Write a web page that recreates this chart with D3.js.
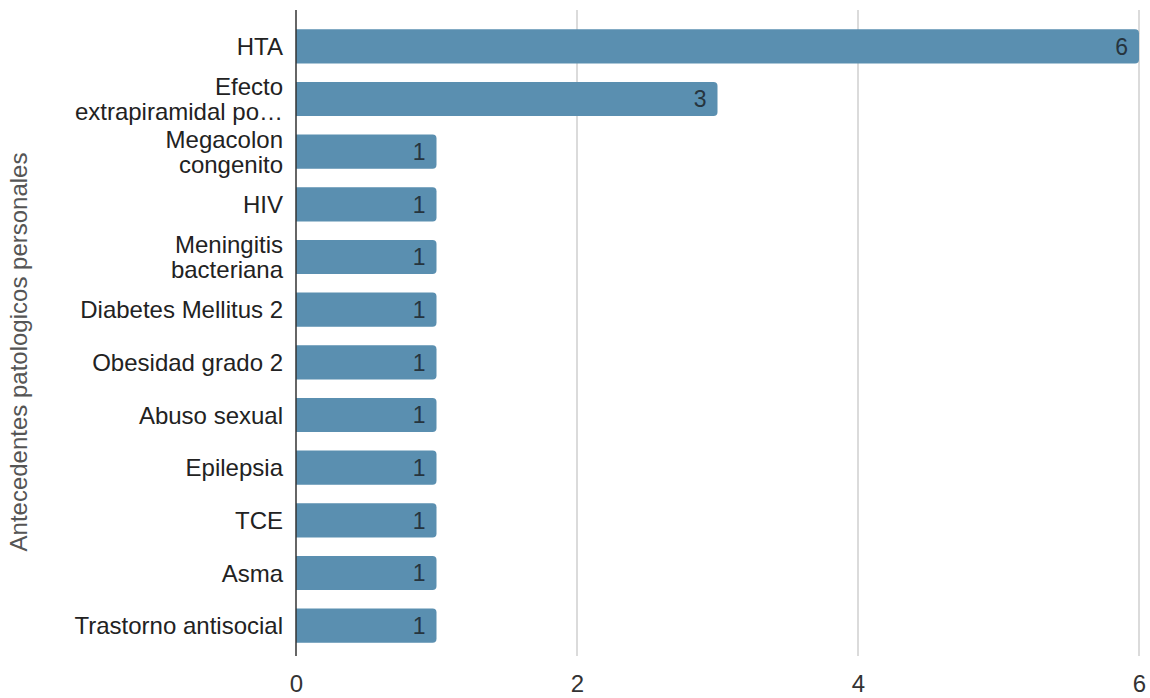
<!DOCTYPE html>
<html>
<head>
<meta charset="utf-8">
<script src="https://cdn.jsdelivr.net/npm/d3@7"></script>
<style>
  html, body { margin: 0; padding: 0; background: #fff; }
  svg { display: block; font-family: "Liberation Sans", Arial, sans-serif; }
</style>
</head>
<body>
<svg id="chart" width="1150" height="698"></svg>
<script>
// Antecedentes patológicos personales: number of cases per condition
const categories = [
  "HTA",
  "Efecto\nextrapiramidal po…",
  "Megacolon\ncongenito",
  "HIV",
  "Meningitis\nbacteriana",
  "Diabetes Mellitus 2",
  "Obesidad grado 2",
  "Abuso sexual",
  "Epilepsia",
  "TCE",
  "Asma",
  "Trastorno antisocial"
];
const values = [6, 3, 1, 1, 1, 1, 1, 1, 1, 1, 1, 1];
const xTicks = [0, 2, 4, 6];
const axisTitle = "Antecedentes patologicos personales";

const svg = d3.select("#chart");
const plotLeft = 296, plotRight = 1139, plotTop = 20, plotBottom = 652;

const x = d3.scaleLinear().domain([0, 6]).range([plotLeft, plotRight]);
const y = d3.scaleBand().domain(categories).range([plotTop, plotBottom])
  .paddingInner(0.35).paddingOuter(0.175);

// vertical gridlines
svg.append("g").selectAll("line").data(xTicks.filter(d => d !== 0)).join("line")
  .attr("x1", d => x(d)).attr("x2", d => x(d))
  .attr("y1", 10).attr("y2", 656)
  .attr("stroke", "#cfcfcf").attr("stroke-width", 1.5);

// x tick labels
const xAxis = d3.axisBottom(x).tickValues(xTicks).tickFormat(d3.format("d"))
  .tickSize(0).tickPadding(0);
const gx = svg.append("g").attr("transform", "translate(0,675)").call(xAxis);
gx.select(".domain").remove();
gx.selectAll("text")
  .attr("font-size", 24).attr("fill", "#333")
  .attr("font-family", "Liberation Sans, Arial, sans-serif");

// bars with rounded right end
const r = 4;
function barPath(d, i) {
  const x0 = x(0), x1 = x(values[i]);
  const y0 = y(categories[i]), h = y.bandwidth();
  return `M${x0},${y0}H${x1 - r}Q${x1},${y0} ${x1},${y0 + r}V${y0 + h - r}Q${x1},${y0 + h} ${x1 - r},${y0 + h}H${x0}Z`;
}
svg.append("g").selectAll("path").data(values).join("path")
  .attr("d", barPath)
  .attr("fill", "#5a8fb0");

// value labels inside bar ends
svg.append("g").selectAll("text").data(values).join("text")
  .attr("x", d => x(d) - 11)
  .attr("y", (d, i) => y(categories[i]) + y.bandwidth() / 2)
  .attr("dy", "0.36em")
  .attr("text-anchor", "end")
  .attr("font-size", 23)
  .attr("fill", "#26343e")
  .text(d => d);

// category labels (wrapped)
const yAxis = d3.axisLeft(y).tickSize(0).tickPadding(0).tickFormat("");
const gy = svg.append("g").attr("transform", `translate(${plotLeft},0)`).call(yAxis);
gy.select(".domain").remove();
const labels = svg.append("g").selectAll("text").data(categories).join("text")
  .attr("text-anchor", "end")
  .attr("font-size", 24)
  .attr("fill", "#222")
  .attr("transform", d => `translate(283,${y(d) + y.bandwidth() / 2})`);
labels.each(function(d) {
  const lines = d.split("\n");
  const lh = 25;
  const t = d3.select(this);
  lines.forEach((ln, k) => {
    t.append("tspan").attr("x", 0)
      .attr("y", (k - (lines.length - 1) / 2) * lh)
      .attr("dy", "0.36em")
      .text(ln);
  });
});

// baseline axis line
svg.append("line")
  .attr("x1", x(0)).attr("x2", x(0))
  .attr("y1", 10).attr("y2", 656)
  .attr("stroke", "#333").attr("stroke-width", 1.5);

// axis title
svg.append("text")
  .attr("transform", "translate(27,352) rotate(-90)")
  .attr("text-anchor", "middle")
  .attr("font-size", 24)
  .attr("fill", "#555")
  .text(axisTitle);
</script>
</body>
</html>
